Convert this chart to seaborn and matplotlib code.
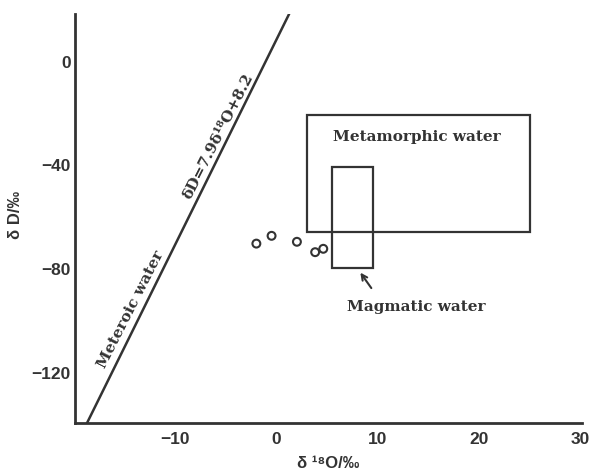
import matplotlib
matplotlib.use('Agg')
import matplotlib.pyplot as plt
import matplotlib.patches as mpatches
import numpy as np
import pandas as pd
import seaborn as sns

# sample points (δ18O, δD)
d18o = [-2.0, -0.5, 2.0, 3.8, 4.6]
dD = [-70.5, -67.5, -69.8, -73.8, -72.5]

# meteoric water line: δD = 7.9 δ18O + 8.2
mwl_slope = 7.9
mwl_intercept = 8.2
mwl_x = [-18.76, 1.24]

# fields: (x0, x1, y0, y1)
metamorphic_box = [3.0, 25.0, -66.0, -21.0]
magmatic_box = [5.5, 9.5, -80.0, -41.0]

x_ticks = [-10, 0, 10, 20, 30]
y_ticks = [0, -40, -80, -120]

ink = '#333333'

sns.set_style('white')
plt.rcParams['font.family'] = ['Liberation Sans', 'DejaVu Sans']

fig = plt.figure(figsize=(5.9, 4.77), dpi=100)
ax = fig.add_axes([0.127, 0.111, 0.859, 0.858])

# meteoric water line
mwl = pd.DataFrame({'x': mwl_x})
mwl['y'] = mwl_slope * mwl['x'] + mwl_intercept
sns.lineplot(data=mwl, x='x', y='y', color=ink, linewidth=1.8, ax=ax)

# fields
for box in [metamorphic_box, magmatic_box]:
    ax.add_patch(mpatches.Rectangle((box[0], box[2]), box[1] - box[0], box[3] - box[2],
                                    fill=False, edgecolor=ink, linewidth=1.6))

# samples
pts = pd.DataFrame({'d18o': d18o, 'dD': dD})
sns.scatterplot(data=pts, x='d18o', y='dD', marker='o', s=32, facecolor='none',
                edgecolor=ink, linewidth=1.5, ax=ax)

serif = dict(family='DejaVu Serif', fontweight='bold', color=ink)
ax.text(-5.8, -28.8, 'δD=7.9δ¹⁸O+8.2', rotation=63, ha='center', va='center',
        rotation_mode='anchor', fontsize=11, **serif)
ax.text(-14.4, -95.4, 'Meteroic water', rotation=63, ha='center', va='center',
        rotation_mode='anchor', fontsize=11, **serif)
ax.text(13.8, -29.0, 'Metamorphic water', ha='center', va='center', fontsize=11, **serif)
ax.text(13.8, -94.5, 'Magmatic water', ha='center', va='center', fontsize=11, **serif)
ax.annotate('', xy=(8.1, -80.8), xytext=(9.5, -88.5),
            arrowprops=dict(arrowstyle='->', color=ink, lw=1.5))

ax.set_xlim(-19.9, 30.1)
ax.set_ylim(-139.6, 18)
ax.set_xticks(x_ticks)
ax.set_yticks(y_ticks)
ax.tick_params(direction='in', length=7, width=2, colors=ink, labelsize=12.5, pad=3)
ax.tick_params(axis='x', pad=6)
for lab in ax.get_xticklabels() + ax.get_yticklabels():
    lab.set_fontweight('bold')

sns.despine(ax=ax)
for side in ['left', 'bottom']:
    ax.spines[side].set_linewidth(2)
    ax.spines[side].set_color(ink)

ax.set_xlabel('δ ¹⁸O/‰', fontsize=12, fontweight='bold', color=ink, labelpad=6)
ax.set_ylabel('δ D/‰', fontsize=12, fontweight='bold', color=ink)
ax.yaxis.set_label_coords(-0.102, 0.51)

fig.savefig('out.png', dpi=100)
